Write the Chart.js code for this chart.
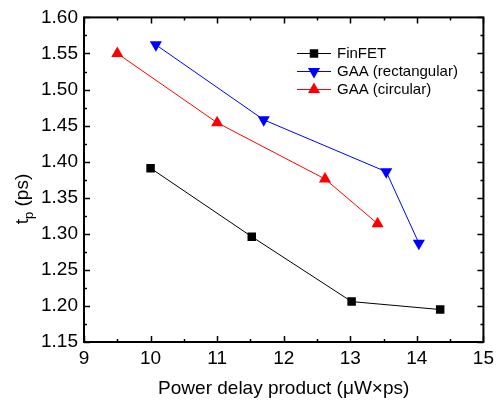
<!DOCTYPE html>
<html>
<head>
<meta charset="utf-8">
<script src="https://cdn.jsdelivr.net/npm/chart.js@4/dist/chart.umd.min.js"></script>
<style>
  html, body { margin: 0; padding: 0; background: #fff; }
  #wrap { width: 499px; height: 400px; position: relative; }
</style>
</head>
<body>
<div id="wrap"><canvas id="chart"></canvas></div>
<script>
// values
var finfetX = [10.0, 11.52, 13.02, 14.35];
var finfetY = [1.391, 1.296, 1.206, 1.195];
var rectX = [10.08, 11.70, 13.54, 14.03];
var rectY = [1.562, 1.458, 1.386, 1.287];
var circX = [9.50, 11.0, 12.62, 13.41];
var circY = [1.550, 1.454, 1.376, 1.314];

var seriesNames = ["FinFET", "GAA (rectangular)", "GAA (circular)"];
var xTitle = "Power delay product (\u03bcW\u00d7ps)";
var yTitleMain = "t";
var yTitleSub = "p";
var yTitleRest = " (ps)";

(function () {
  "use strict";

  var FONT = "Arial, 'Liberation Sans', sans-serif";

  function pts(xs, ys) {
    return xs.map(function (x, i) { return { x: x, y: ys[i] }; });
  }

  function makeSet(label, xs, ys, color, style, rot, radius) {
    return {
      label: label,
      data: pts(xs, ys),
      borderColor: color,
      backgroundColor: color,
      borderWidth: 1,
      pointStyle: style,
      rotation: rot,
      pointRadius: radius,
      pointBorderWidth: 0,
      showLine: true,
      tension: 0,
    };
  }

  var datasets = [
    makeSet(seriesNames[0], finfetX, finfetY, "#000000", "rect", 0, 6),
    makeSet(seriesNames[1], rectX, rectY, "#0000ff", "triangle", 180, 7),
    makeSet(seriesNames[2], circX, circY, "#ff0000", "triangle", 0, 7),
  ];

  // frame, inward ticks on all four sides, legend and axis titles
  var decor = {
    id: "decor",
    afterDraw: function (chart) {
      var ctx = chart.ctx;
      var a = chart.chartArea;
      var xs = chart.scales.x, ys = chart.scales.y;
      ctx.save();
      ctx.strokeStyle = "#000";
      ctx.lineWidth = 1.5;
      var v, p;
      for (v = 9; v <= 15.001; v += 0.5) {
        p = Math.round(xs.getPixelForValue(v)) + 0.5;
        var len = Math.abs(v - Math.round(v)) < 1e-6 ? 6 : 3;
        ctx.beginPath();
        ctx.moveTo(p, a.bottom); ctx.lineTo(p, a.bottom - len);
        ctx.moveTo(p, a.top); ctx.lineTo(p, a.top + len);
        ctx.stroke();
      }
      for (var k = 0; k <= 18; k++) {
        v = 1.15 + k * 0.025;
        p = Math.round(ys.getPixelForValue(v)) + 0.5;
        var l2 = k % 2 === 0 ? 6 : 3;
        ctx.beginPath();
        ctx.moveTo(a.left, p); ctx.lineTo(a.left + l2, p);
        ctx.moveTo(a.right, p); ctx.lineTo(a.right - l2, p);
        ctx.stroke();
      }
      ctx.lineWidth = 2;
      ctx.strokeRect(a.left, a.top, a.right - a.left, a.bottom - a.top);

      // legend
      var lx0 = 297, lx1 = 331, tx = 337;
      var rows = [53, 71, 89];
      ctx.font = "15px " + FONT;
      ctx.textBaseline = "middle";
      ctx.textAlign = "left";
      chart.data.datasets.forEach(function (ds, i) {
        var y = rows[i];
        ctx.strokeStyle = ds.borderColor;
        ctx.lineWidth = 1;
        ctx.beginPath();
        ctx.moveTo(lx0, y + 0.5); ctx.lineTo(lx1, y + 0.5);
        ctx.stroke();
        ctx.fillStyle = ds.backgroundColor;
        Chart.helpers.drawPoint(ctx, {
          pointStyle: ds.pointStyle,
          rotation: ds.rotation,
          radius: ds.pointRadius,
          borderWidth: 0,
        }, (lx0 + lx1) / 2, y + 0.5);
        ctx.fillStyle = "#000";
        ctx.fillText(ds.label, tx, y + 1);
      });

      // x title
      ctx.fillStyle = "#000";
      ctx.font = "19px " + FONT;
      ctx.textAlign = "center";
      ctx.textBaseline = "alphabetic";
      ctx.fillText(xTitle, (a.left + a.right) / 2, 394);

      // y title with subscript
      ctx.translate(28, 199);
      ctx.rotate(-Math.PI / 2);
      ctx.font = "19px " + FONT;
      var wMain = ctx.measureText(yTitleMain).width;
      ctx.font = "13px " + FONT;
      var wSub = ctx.measureText(yTitleSub).width;
      ctx.font = "19px " + FONT;
      var wRest = ctx.measureText(yTitleRest).width;
      var start = -(wMain + wSub + wRest) / 2;
      ctx.textAlign = "left";
      ctx.fillText(yTitleMain, start, 0);
      ctx.font = "13px " + FONT;
      ctx.fillText(yTitleSub, start + wMain, 5);
      ctx.font = "19px " + FONT;
      ctx.fillText(yTitleRest, start + wMain + wSub, 0);
      ctx.restore();
    },
  };

  new Chart(document.getElementById("chart"), {
    type: "scatter",
    data: { datasets: datasets },
    options: {
      responsive: true,
      maintainAspectRatio: false,
      animation: false,
      layout: { padding: { top: 17, right: 13, left: 0, bottom: 0 } },
      plugins: { legend: { display: false }, tooltip: { enabled: false } },
      scales: {
        x: {
          type: "linear",
          min: 9, max: 15,
          grid: { display: false, drawTicks: false },
          border: { display: false },
          ticks: {
            stepSize: 1, padding: 5, color: "#000",
            font: { size: 19, family: FONT },
            maxRotation: 0,
          },
          afterFit: function (s) { s.height = 58; },
        },
        y: {
          type: "linear",
          min: 1.15, max: 1.6,
          grid: { display: false, drawTicks: false },
          border: { display: false },
          ticks: {
            stepSize: 0.05, padding: 6, color: "#000",
            font: { size: 19, family: FONT },
            callback: function (v) { return Number(v).toFixed(2); },
          },
          afterFit: function (s) { s.width = 84; },
        },
      },
    },
    plugins: [decor],
  });
})();
</script>
</body>
</html>
